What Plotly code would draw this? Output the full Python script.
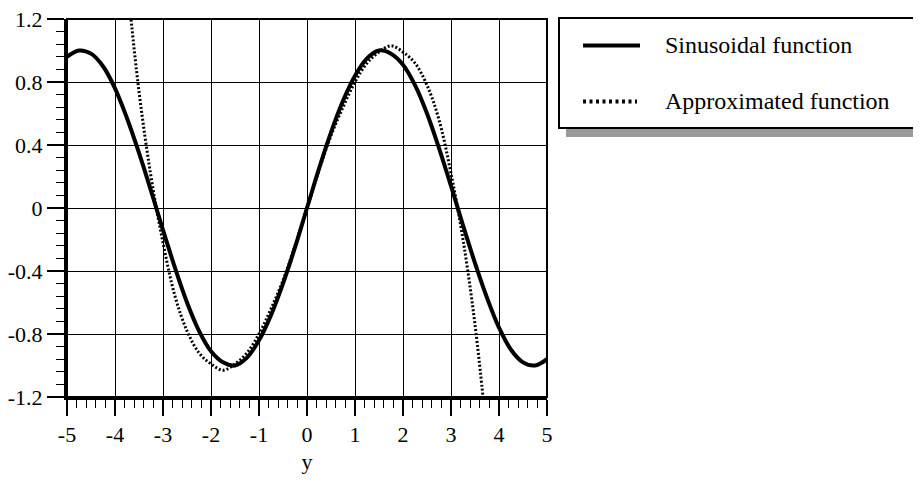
import plotly.graph_objects as go

# ---------------- data ----------------
sin_x = [-5, -4.75, -4.5, -4.25, -4, -3.75, -3.5, -3.25, -3, -2.75, -2.5, -2.25, -2, -1.75, -1.5,
         -1.25, -1, -0.75, -0.5, -0.25, 0, 0.25, 0.5, 0.75, 1, 1.25, 1.5, 1.75, 2, 2.25, 2.5,
         2.75, 3, 3.25, 3.5, 3.75, 4, 4.25, 4.5, 4.75, 5]
sin_y = [0.96, 1.00, 0.98, 0.90, 0.76, 0.57, 0.35, 0.11, -0.14, -0.38, -0.60, -0.78, -0.91, -0.98, -1.00,
         -0.95, -0.84, -0.68, -0.48, -0.25, 0.00, 0.25, 0.48, 0.68, 0.84, 0.95, 1.00, 0.98, 0.91, 0.78, 0.60,
         0.38, 0.14, -0.11, -0.35, -0.57, -0.76, -0.90, -0.98, -1.00, -0.96]

apx_x = [-3.75, -3.5, -3.25, -3, -2.75, -2.5, -2.25, -2, -1.75, -1.5, -1.25, -1, -0.75, -0.5, -0.25,
         0, 0.25, 0.5, 0.75, 1, 1.25, 1.5, 1.75, 2, 2.25, 2.5, 2.75, 3, 3.25, 3.5, 3.75]
apx_y = [1.45, 0.74, 0.20, -0.22, -0.56, -0.78, -0.92, -0.99, -1.03, -0.99, -0.92, -0.80, -0.64, -0.46, -0.24,
         0.00, 0.24, 0.46, 0.64, 0.80, 0.92, 0.99, 1.03, 0.99, 0.92, 0.78, 0.56, 0.22, -0.20, -0.74, -1.45]

x_ticks = [-5, -4, -3, -2, -1, 0, 1, 2, 3, 4, 5]
x_tick_text = ["-5", "-4", "-3", "-2", "-1", "0", "1", "2", "3", "4", "5"]
y_ticks = [-1.2, -0.8, -0.4, 0, 0.4, 0.8, 1.2]
y_tick_text = ["-1.2", "-0.8", "-0.4", "0", "0.4", "0.8", "1.2"]

series_names = ["Sinusoidal function", "Approximated function"]
x_title = "y"

# ---------------- layout constants ----------------
OFF = 8                                 # page body margin
W, H = 921 - OFF, 488 - OFF
L, R, T, B = 67 - OFF, 547 - OFF, 19 - OFF, 397 - OFF   # plot area in figure pixels
FONT = "Liberation Serif"


def px(xp):
    return (xp - OFF - L) / (R - L)


def py(yp):
    return (B - (yp - OFF)) / (B - T)


fig = go.Figure()
fig.add_trace(go.Scatter(x=sin_x, y=sin_y, mode="lines", name=series_names[0],
                         line=dict(color="black", width=4, shape="spline"), showlegend=False))
fig.add_trace(go.Scatter(x=apx_x, y=apx_y, mode="lines", name=series_names[1],
                         line=dict(color="black", width=3, shape="spline", dash="2px,2px"),
                         showlegend=False))

shapes = []
shapes.append(dict(type="rect", xref="paper", yref="paper", x0=0, x1=1, y0=0, y1=1,
                   line=dict(color="black", width=2), layer="above"))
shapes.append(dict(type="rect", xref="paper", yref="paper", x0=px(566), x1=px(922), y0=py(137), y1=py(26),
                   line=dict(width=0), fillcolor="#999999"))
shapes.append(dict(type="rect", xref="paper", yref="paper", x0=px(559), x1=px(915), y0=py(128), y1=py(18),
                   line=dict(color="black", width=2), fillcolor="white"))
shapes.append(dict(type="line", xref="paper", yref="paper", x0=px(583), x1=px(640), y0=py(45.5), y1=py(45.5),
                   line=dict(color="black", width=4)))
shapes.append(dict(type="line", xref="paper", yref="paper", x0=px(583), x1=px(637), y0=py(101.5), y1=py(101.5),
                   line=dict(color="black", width=4, dash="3px,3.5px")))

annotations = []
for i, (name, yy) in enumerate(zip(series_names, [45, 101])):
    annotations.append(dict(xref="paper", yref="paper", x=px(663), y=py(yy), text=name, showarrow=False,
                            xanchor="left", yanchor="middle", font=dict(family=FONT, size=24)))

fig.update_layout(
    width=W, height=H,
    margin=dict(l=L, r=W - R, t=T, b=H - B, autoexpand=False),
    paper_bgcolor="white", plot_bgcolor="white",
    font=dict(family=FONT, size=22, color="black"),
    shapes=shapes, annotations=annotations,
    showlegend=False,
)
fig.update_xaxes(
    range=[-5, 5], tickmode="array", tickvals=x_ticks, ticktext=x_tick_text, automargin=False,
    showline=True, linecolor="black", linewidth=3, mirror=False,
    showgrid=True, gridcolor="black", gridwidth=1, zeroline=False,
    ticks="outside", ticklen=16, tickwidth=1.5, tickcolor="black", ticklabelstandoff=0,
    ticklabeloverflow="allow",
    tickfont=dict(family=FONT, size=22),
    minor=dict(tickmode="linear", tick0=-5, dtick=0.2, ticks="outside", ticklen=8, tickwidth=1,
               tickcolor="black", showgrid=False),
    title=dict(text=x_title, font=dict(family=FONT, size=22), standoff=8),
)
fig.update_yaxes(
    range=[-1.2, 1.2], tickmode="array", tickvals=y_ticks, ticktext=y_tick_text, automargin=False,
    showline=True, linecolor="black", linewidth=3, mirror=False,
    showgrid=True, gridcolor="black", gridwidth=1, zeroline=False,
    ticks="outside", ticklen=17, tickwidth=1.5, tickcolor="black", ticklabelstandoff=0,
    ticklabeloverflow="allow",
    tickfont=dict(family=FONT, size=22),
    minor=dict(tickmode="linear", tick0=-1.2, dtick=0.08, ticks="outside", ticklen=8, tickwidth=1,
               tickcolor="black", showgrid=False),
)

fig.write_html("out.html")
